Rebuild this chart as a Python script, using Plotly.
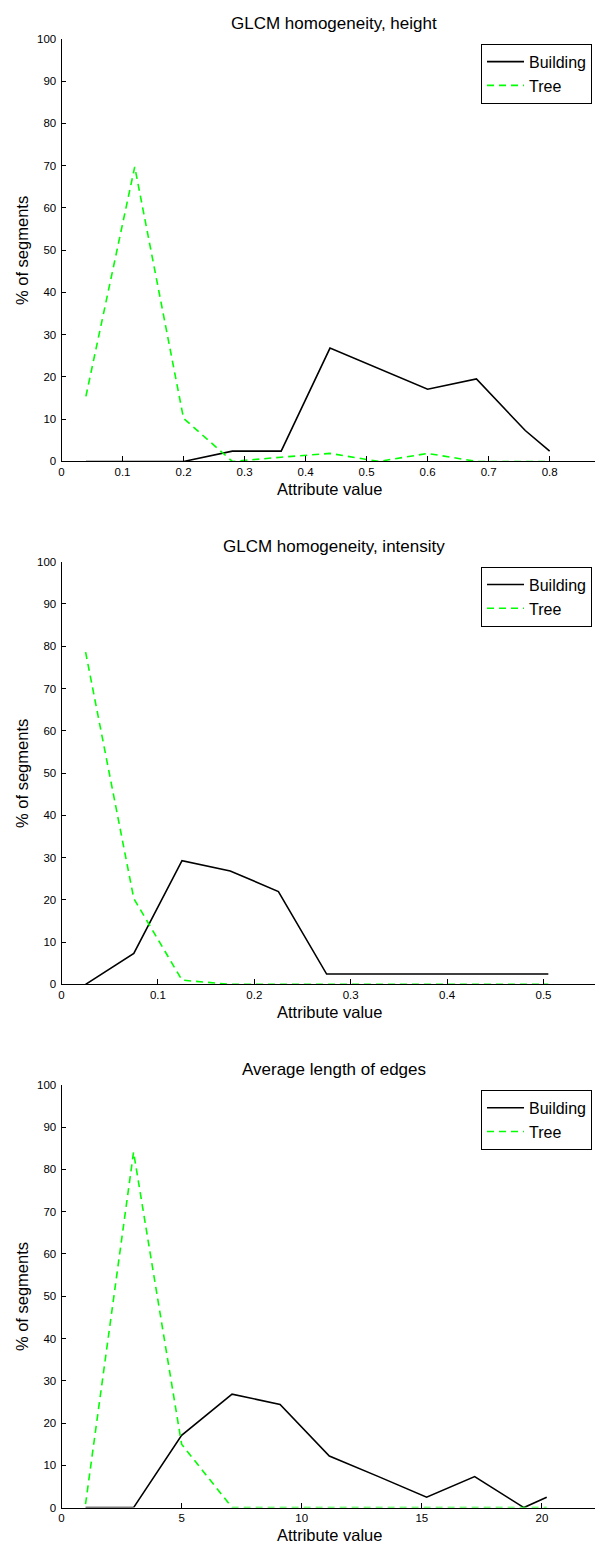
import plotly.graph_objects as go

W, H = 595, 1548

# ---------------- data ----------------
titles = ["GLCM homogeneity, height", "GLCM homogeneity, intensity", "Average length of edges"]
series_names = ["Building", "Tree"]

top_x = [0.04, 0.12, 0.20, 0.28, 0.36, 0.44, 0.52, 0.60, 0.68, 0.76, 0.80]
top_building = [0, 0, 0, 2.44, 2.44, 26.83, 21.95, 17.07, 19.51, 7.32, 2.44]
top_tree = [15.4, 69.7, 10.2, 0, 1.0, 1.9, 0, 1.9, 0, 0, 0]

mid_x = [0.025, 0.075, 0.125, 0.175, 0.225, 0.275, 0.325, 0.375, 0.425, 0.475, 0.505]
mid_building = [0, 7.32, 29.27, 26.83, 21.95, 2.44, 2.44, 2.44, 2.44, 2.44, 2.44]
mid_tree = [78.6, 20.3, 1.0, 0, 0, 0, 0, 0, 0, 0, 0]

bot_x = [1.0, 3.0, 5.0, 7.1, 9.1, 11.15, 13.2, 15.2, 17.2, 19.25, 20.2]
bot_building = [0, 0, 17.07, 26.83, 24.39, 12.20, 7.32, 2.44, 7.32, 0, 2.44]
bot_tree = [0.8, 84.1, 15.0, 0, 0, 0, 0, 0, 0, 0, 0]

top_xticks = [0, 0.1, 0.2, 0.3, 0.4, 0.5, 0.6, 0.7, 0.8]
top_xticktext = ["0", "0.1", "0.2", "0.3", "0.4", "0.5", "0.6", "0.7", "0.8"]
mid_xticks = [0, 0.1, 0.2, 0.3, 0.4, 0.5]
mid_xticktext = ["0", "0.1", "0.2", "0.3", "0.4", "0.5"]
bot_xticks = [0, 5, 10, 15, 20]
bot_xticktext = ["0", "5", "10", "15", "20"]
yticks = [0, 10, 20, 30, 40, 50, 60, 70, 80, 90, 100]
yticktext = ["0", "10", "20", "30", "40", "50", "60", "70", "80", "90", "100"]

x_label = "Attribute value"
y_label = "% of segments"

# ---------------- layout geometry (pixels) ----------------
FONT = "Liberation Sans, Arial, Helvetica, sans-serif"
x_left = 58.8
panels = [
    # (y0 px, y100 px, xmax)
    (459.0, 33.0, 0.8743),
    (986.0, 560.0, 0.5534),
    (1513.3, 1087.3, 22.21),
]

datasets = [
    (top_x, top_building, top_tree, top_xticks, top_xticktext),
    (mid_x, mid_building, mid_tree, mid_xticks, mid_xticktext),
    (bot_x, bot_building, bot_tree, bot_xticks, bot_xticktext),
]

fig = go.Figure()
layout = dict(
    width=W, height=H,
    margin=dict(l=0, r=0, t=0, b=0),
    paper_bgcolor="white", plot_bgcolor="white",
    font=dict(family=FONT, color="black", size=11),
    showlegend=True,
)
annotations = []

def py(p):
    return 1 - p / H

for i, ((y0, y100, xmax), (xs, b, t, xt, xtt)) in enumerate(zip(panels, datasets)):
    n = "" if i == 0 else str(i + 1)
    xa = "x" + n
    ya = "y" + n
    lg = "legend" + n
    fig.add_trace(go.Scatter(x=xs, y=b, mode="lines", name=series_names[0],
                             line=dict(color="black", width=1.6),
                             xaxis=xa, yaxis=ya, legend=lg))
    fig.add_trace(go.Scatter(x=xs, y=t, mode="lines", name=series_names[1],
                             line=dict(color="#00ff00", width=1.6, dash="7px,5px"),
                             xaxis=xa, yaxis=ya, legend=lg))
    layout["xaxis" + n] = dict(
        domain=[x_left / W, 1], range=[0, xmax], anchor=ya,
        showline=True, linecolor="black", linewidth=1,
        ticks="inside", ticklen=5, tickcolor="black", tickwidth=1,
        tickvals=xt, ticktext=xtt, showgrid=False, zeroline=False,
        tickfont=dict(size=11.5, family=FONT, color="black"),
        fixedrange=True,
    )
    layout["yaxis" + n] = dict(
        domain=[py(y0), py(y100)], range=[0, 100], anchor=xa,
        showline=True, linecolor="black", linewidth=1,
        ticks="inside", ticklen=4, tickcolor="black", tickwidth=1,
        tickvals=yticks, ticktext=yticktext, showgrid=False, zeroline=False,
        tickfont=dict(size=11.5, family=FONT, color="black"),
        ticklabelstandoff=2,
        fixedrange=True,
    )
    layout[lg] = dict(
        x=592 / W, xanchor="right", y=py(y100 + 5), yanchor="top",
        bordercolor="black", borderwidth=1, bgcolor="white",
        font=dict(size=16, family=FONT, color="black"),
        itemwidth=37,
        tracegroupgap=0,
    )
    # title
    annotations.append(dict(text=titles[i], x=333 / W, y=py(y100 - 15), xref="paper", yref="paper",
                            showarrow=False, xanchor="center", yanchor="middle",
                            font=dict(size=17, family=FONT, color="black")))
    # x label
    annotations.append(dict(text=x_label, x=328 / W, y=py(y0 + 27.5), xref="paper", yref="paper",
                            showarrow=False, xanchor="center", yanchor="middle",
                            font=dict(size=16.5, family=FONT, color="black")))
    # y label
    annotations.append(dict(text=y_label, x=19 / W, y=py((y0 + y100) / 2), xref="paper", yref="paper",
                            showarrow=False, xanchor="center", yanchor="middle", textangle=-90,
                            font=dict(size=16.5, family=FONT, color="black")))

layout["annotations"] = annotations
fig.update_layout(**layout)
fig.write_html(
    "out.html",
    config={"displayModeBar": False},
    post_script=(
        "document.body.style.margin='0';document.body.style.padding='0';"
        "var d=document.getElementById('{plot_id}');"
        "d.style.position='absolute';d.style.left='0px';d.style.top='0px';"
    ),
)
